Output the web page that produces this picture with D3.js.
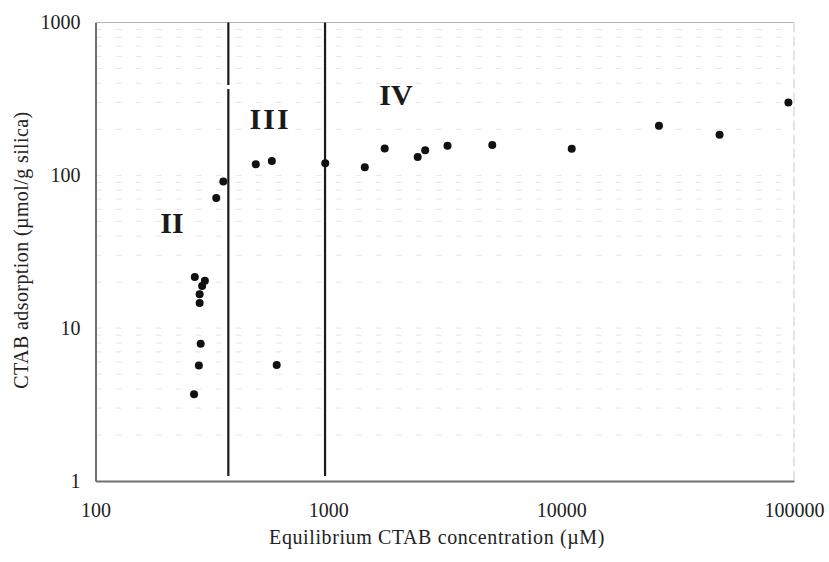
<!DOCTYPE html>
<html>
<head>
<meta charset="utf-8">
<script src="https://cdn.jsdelivr.net/npm/d3@7"></script>
<style>
  body { margin: 0; background: #fff; }
  svg { display: block; }
</style>
</head>
<body>
<svg id="chart" width="829" height="562"></svg>
<script>
// Data (equilibrium CTAB concentration µM, adsorption µmol/g silica)
const concentration = [354, 330, 267, 295, 287, 280, 280, 283, 278, 265,
                       488, 572, 600,
                       970, 1434, 1746, 2420, 2606, 3250, 5060, 11100, 26300, 47900, 94600];
const adsorption    = [91, 71, 21.6, 20.4, 18.9, 16.7, 14.6, 7.9, 5.7, 3.7,
                       118, 124, 5.75,
                       120, 113, 150, 132, 146, 156, 158, 149, 211, 184, 300];
const regionBoundaries = [372, 968];
const regionLabels = ["II", "III", "IV"];
const regionLabelX = [213, 562, 1953];
const regionLabelY = [42, 201, 288];
const xTicks = [100, 1000, 10000, 100000];
const yTicks = [1, 10, 100, 1000];

const svg = d3.select("#chart");
const margin = { left: 95.5, right: 35, top: 22.5, bottom: 81 };
const W = 829, H = 562;
const FONT = "Liberation Serif, Times New Roman, serif";

const x = d3.scaleLog().domain([100, 100000]).range([margin.left, W - margin.right]);
const y = d3.scaleLog().domain([1, 1000]).range([H - margin.bottom, margin.top]);

// faint minor gridlines
const minorY = [];
for (let d = 1; d < 1000; d *= 10) for (let k = 1; k <= 9; k++) if (d * k > 1) minorY.push(d * k);

svg.append("g").selectAll("line").data(minorY).join("line")
  .attr("x1", x(100)).attr("x2", x(100000))
  .attr("y1", d => y(d)).attr("y2", d => y(d))
  .attr("stroke", "#e6e6e6").attr("stroke-width", 1)
  .attr("stroke-dasharray", "6,14");

// frame (top & right light)
svg.append("line").attr("x1", x(100)).attr("x2", x(100000)).attr("y1", y(1000)).attr("y2", y(1000))
  .attr("stroke", "#b5b5b5").attr("stroke-width", 1.2);
svg.append("line").attr("x1", x(100000)).attr("x2", x(100000)).attr("y1", y(1000)).attr("y2", y(1))
  .attr("stroke", "#d2d2d2").attr("stroke-width", 1.2).attr("stroke-dasharray", "10,4");

// axes
const xAxis = d3.axisBottom(x).tickValues(xTicks).tickFormat(d3.format("d")).tickSize(0).tickPadding(22);
const yAxis = d3.axisLeft(y).tickValues(yTicks).tickFormat(d3.format("d")).tickSize(0).tickPadding(15);

const gx = svg.append("g").attr("transform", `translate(0,${y(1)})`).call(xAxis);
const gy = svg.append("g").attr("transform", `translate(${x(100)},0)`).call(yAxis);
[gx, gy].forEach(g => {
  g.select(".domain").attr("stroke", "#6e6e6e").attr("stroke-width", 2);
  g.selectAll("text").attr("font-family", FONT)
    .attr("font-size", 20).attr("fill", "#222");
});

// region boundaries
regionBoundaries.forEach((b, i) => {
  if (i === 0) {
    svg.append("line").attr("x1", x(b)).attr("x2", x(b)).attr("y1", y(1000)).attr("y2", 85)
      .attr("stroke", "#1a1a1a").attr("stroke-width", 2.2);
    svg.append("line").attr("x1", x(b)).attr("x2", x(b)).attr("y1", 89).attr("y2", 476)
      .attr("stroke", "#1a1a1a").attr("stroke-width", 2.2);
  } else {
    svg.append("line").attr("x1", x(b)).attr("x2", x(b)).attr("y1", y(1000)).attr("y2", 476)
      .attr("stroke", "#1a1a1a").attr("stroke-width", 2.2);
  }
});

// region labels
svg.append("g").selectAll("text").data(regionLabels).join("text")
  .attr("x", (d, i) => x(regionLabelX[i]))
  .attr("y", (d, i) => y(regionLabelY[i]))
  .attr("text-anchor", "middle")
  .attr("font-family", FONT)
  .attr("font-weight", "bold").attr("font-size", 30).attr("fill", "#1a1a1a")
  .attr("letter-spacing", (d, i) => i === 1 ? 2 : 0)
  .text(d => d);

// points
svg.append("g").selectAll("circle").data(concentration).join("circle")
  .attr("cx", (d) => x(d))
  .attr("cy", (d, i) => y(adsorption[i]))
  .attr("r", 4).attr("fill", "#111");

// axis titles
svg.append("text").attr("x", 437).attr("y", 544).attr("text-anchor", "middle")
  .attr("font-family", FONT).attr("font-size", 20).attr("letter-spacing", 0.6).attr("fill", "#222")
  .text("Equilibrium CTAB concentration (µM)");
svg.append("text").attr("transform", "translate(28,250) rotate(-90)").attr("text-anchor", "middle")
  .attr("font-family", FONT).attr("font-size", 20).attr("letter-spacing", 0.4).attr("fill", "#222")
  .text("CTAB adsorption (µmol/g silica)");
</script>
</body>
</html>
